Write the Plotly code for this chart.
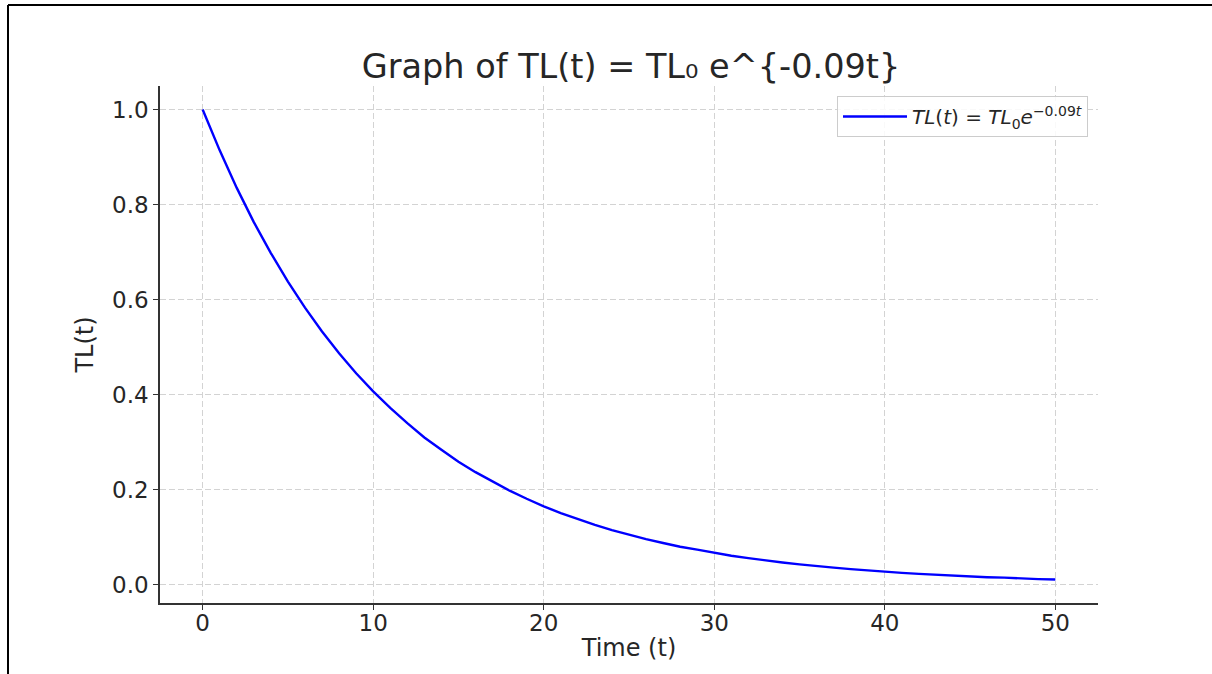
import plotly.graph_objects as go

# Values (time t, TL(t))
t_values = list(range(0, 51))
tl_values = [
    1.000, 0.914, 0.835, 0.763, 0.698, 0.638, 0.583, 0.533, 0.487, 0.445,
    0.407, 0.372, 0.340, 0.310, 0.284, 0.259, 0.237, 0.217, 0.198, 0.181,
    0.165, 0.151, 0.138, 0.126, 0.115, 0.105, 0.096, 0.088, 0.080, 0.074,
    0.067, 0.061, 0.056, 0.051, 0.047, 0.043, 0.039, 0.036, 0.033, 0.030,
    0.027, 0.025, 0.023, 0.021, 0.019, 0.017, 0.016, 0.015, 0.013, 0.012,
    0.011,
]
x_ticks = [0, 10, 20, 30, 40, 50]
y_ticks = [0.0, 0.2, 0.4, 0.6, 0.8, 1.0]
y_tick_text = ["0.0", "0.2", "0.4", "0.6", "0.8", "1.0"]

title_text = "Graph of TL(t) = TL₀ e^{-0.09t}"
legend_name = "<i>TL</i>(<i>t</i>) = <i>TL</i><sub>0</sub><i>e</i><sup>−0.09<i>t</i></sup>"

W, H = 1212, 674
L, R, T, B = 160, 1098, 86, 603
FONT = "DejaVu Sans"
TXT = "#262626"
GRID_DASH = "6px,3px"

fig = go.Figure()
fig.add_trace(go.Scatter(
    x=t_values, y=tl_values, mode="lines", name=legend_name,
    line=dict(color="#0000ff", width=2.4), showlegend=True,
))

pw, ph = R - L, B - T
def px_x(p):
    return (p - L) / pw
def px_y(p):
    return (B - p) / ph

fig.update_layout(
    width=W, height=H,
    margin=dict(l=L, r=W - R, t=T, b=H - B, autoexpand=False),
    paper_bgcolor="white", plot_bgcolor="white",
    font=dict(family=FONT, color=TXT, size=23),
    title=dict(text=title_text, x=631 / W, xanchor="center",
               y=1 - 66 / H, yanchor="middle", yref="container",
               font=dict(size=33.5, color=TXT, family=FONT)),
    showlegend=True,
    legend=dict(x=px_x(1088), xanchor="right", y=px_y(96), yanchor="top",
                itemwidth=64,
                bgcolor="rgba(255,255,255,0.85)", bordercolor="#cccccc",
                borderwidth=1, font=dict(size=20, color=TXT, family=FONT)),
    xaxis=dict(
        range=[-2.5, 52.5], tickvals=x_ticks, ticks="outside", ticklen=5,
        tickwidth=1.2, tickcolor="#333333", showline=True, linecolor="#333333",
        linewidth=1.5, mirror=False, showgrid=True, gridcolor="#d3d3d3",
        griddash=GRID_DASH, gridwidth=1, zeroline=False, automargin=False,
        ticklabelstandoff=-6,
        tickfont=dict(size=23, color=TXT),
        title=dict(text="Time (t)", font=dict(size=24, color=TXT), standoff=4),
    ),
    yaxis=dict(
        range=[-0.0383, 1.0494], tickvals=y_ticks, ticktext=y_tick_text,
        ticks="outside", ticklen=5, tickwidth=1.2, tickcolor="#333333",
        showline=True, linecolor="#333333", linewidth=1.5, mirror=False,
        showgrid=True, gridcolor="#d3d3d3", griddash=GRID_DASH, gridwidth=1,
        zeroline=False, automargin=False, tickfont=dict(size=23, color=TXT),
        title=dict(text="TL(t)", font=dict(size=24, color=TXT), standoff=12),
    ),
    shapes=[
        dict(type="line", xref="paper", yref="paper",
             x0=px_x(8), x1=px_x(W + 5), y0=px_y(5), y1=px_y(5),
             line=dict(color="black", width=2)),
        dict(type="line", xref="paper", yref="paper",
             x0=px_x(8), x1=px_x(8), y0=px_y(5), y1=px_y(H + 5),
             line=dict(color="black", width=2)),
    ],
)

fig.write_html("out.html", config={"displayModeBar": False},
               post_script="document.body.style.margin='0px';document.body.style.overflow='hidden';")
